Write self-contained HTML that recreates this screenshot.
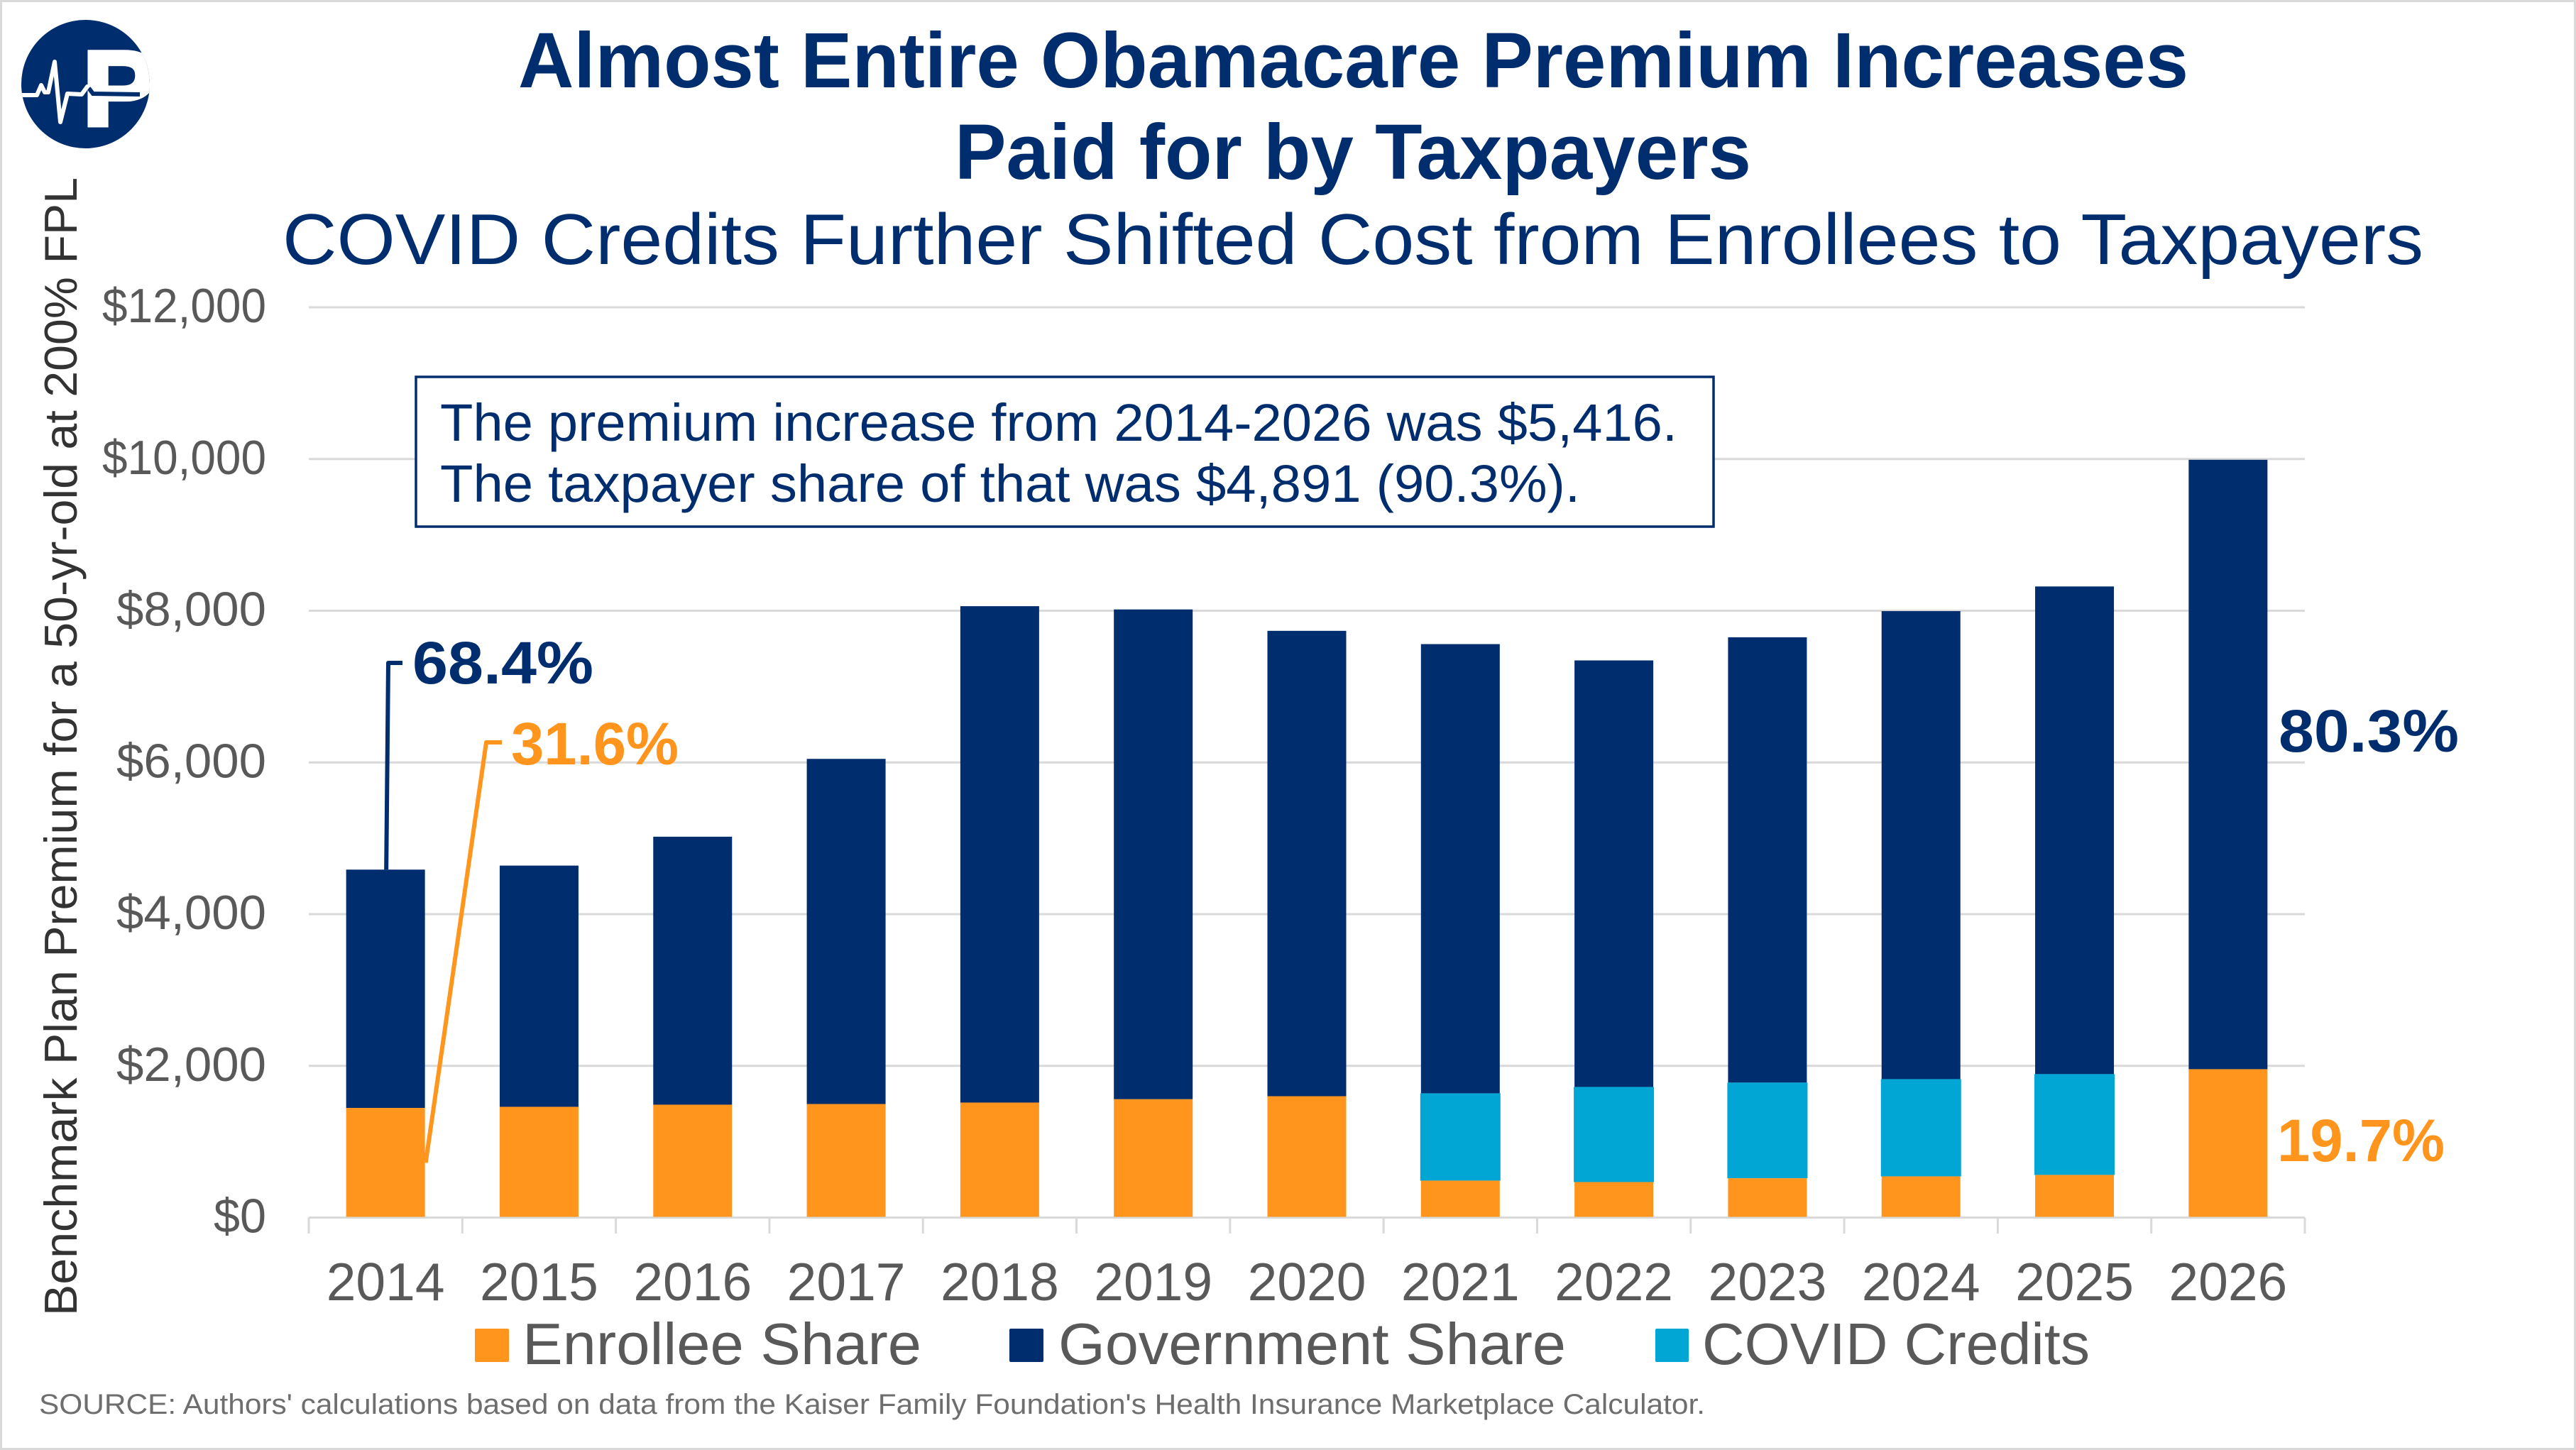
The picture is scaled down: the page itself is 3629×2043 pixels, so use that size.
<!DOCTYPE html>
<html lang="en">
<head>
<meta charset="utf-8">
<title>Almost Entire Obamacare Premium Increases Paid for by Taxpayers</title>
<style>
html,body{margin:0;padding:0;background:#fff;}
svg{display:block;}
text{font-family:"Liberation Sans",sans-serif;}
</style>
</head>
<body>
<svg id="chart" xmlns="http://www.w3.org/2000/svg" width="3629" height="2043" viewBox="0 0 3629 2043">
  <rect x="1.5" y="1.5" width="3626" height="2040" fill="#fff" stroke="#d9d9d9" stroke-width="3"/>
  <g>
    <defs><clipPath id="logoClip"><circle cx="120.5" cy="118.5" r="90.5"/></clipPath></defs>
    <circle cx="120.5" cy="118.5" r="90.5" fill="#002d6e"/>
    <g clip-path="url(#logoClip)">
      <text x="116" y="176.5" font-size="150" font-weight="700" fill="#fff" stroke="#fff" stroke-width="6" textLength="106" lengthAdjust="spacingAndGlyphs">P</text>
      <rect x="156" y="97" width="23" height="23" rx="7" fill="#002d6e"/>
      <polyline points="125,124 131,132 197,133" fill="none" stroke="#002d6e" stroke-width="6"/>
      <polyline points="28,134 52,134 58,120 63,130 68,130 77,87 85,172 95,132 115,133 123,122" fill="none" stroke="#fff" stroke-width="6" stroke-linejoin="round" stroke-linecap="round"/>
    </g>
  </g>
  <text x="730" y="123" font-size="110" font-weight="700" fill="#002d6e" textLength="2353" lengthAdjust="spacingAndGlyphs">Almost Entire Obamacare Premium Increases</text>
  <text x="1345" y="252" font-size="110" font-weight="700" fill="#002d6e" textLength="1122" lengthAdjust="spacingAndGlyphs">Paid for by Taxpayers</text>
  <text x="398" y="372" font-size="101" fill="#002d6e" textLength="3016" lengthAdjust="spacingAndGlyphs">COVID Credits Further Shifted Cost from Enrollees to Taxpayers</text>
  <text transform="translate(108,1854) rotate(-90)" font-size="65" fill="#333" textLength="1604" lengthAdjust="spacingAndGlyphs">Benchmark Plan Premium for a 50-yr-old at 200% FPL</text>
  <g id="gridLayer"></g>
  <g id="tickLayer"></g>
  <g id="barLayer"></g>
  <g id="calloutLayer"></g>
  <g>
    <rect x="586" y="531" width="1828" height="211" fill="#fff" stroke="#002d6e" stroke-width="3.5"/>
    <text x="620" y="621" font-size="74" fill="#002d6e" textLength="1743" lengthAdjust="spacingAndGlyphs">The premium increase from 2014-2026 was $5,416.</text>
    <text x="620" y="707" font-size="74" fill="#002d6e" textLength="1606" lengthAdjust="spacingAndGlyphs">The taxpayer share of that was $4,891 (90.3%).</text>
  </g>
  <text x="3210" y="1059" font-size="84" font-weight="700" fill="#002d6e" textLength="254" lengthAdjust="spacingAndGlyphs">80.3%</text>
  <text x="3208" y="1636" font-size="84" font-weight="700" fill="#ff951d" textLength="236" lengthAdjust="spacingAndGlyphs">19.7%</text>
  <g>
    <g>
      <rect x="669" y="1872" width="48" height="47" rx="2" fill="#ff951d"/>
      <text x="736" y="1922" font-size="83" fill="#595959" textLength="562" lengthAdjust="spacingAndGlyphs">Enrollee Share</text>
    </g>
    <g>
      <rect x="1422" y="1872" width="48" height="47" rx="2" fill="#002d6e"/>
      <text x="1491" y="1922" font-size="83" fill="#595959" textLength="715" lengthAdjust="spacingAndGlyphs">Government Share</text>
    </g>
    <g>
      <rect x="2332" y="1872" width="47" height="47" rx="2" fill="#02a6d5"/>
      <text x="2398" y="1922" font-size="83" fill="#595959" textLength="546" lengthAdjust="spacingAndGlyphs">COVID Credits</text>
    </g>
  </g>
  <text x="55" y="1992" font-size="40" fill="#6e6e6e" textLength="2347" lengthAdjust="spacingAndGlyphs">SOURCE: Authors' calculations based on data from the Kaiser Family Foundation's Health Insurance Marketplace Calculator.</text>
</svg>
<script>
var years = ["2014","2015","2016","2017","2018","2019","2020","2021","2022","2023","2024","2025","2026"];
var enrolleeShare = [1445,1460,1488,1497,1516,1560,1600,487,468,518,543,562,1956];
var covidCredits = [0,0,0,0,0,0,0,1151,1254,1261,1282,1329,0];
var governmentShare = [3142,3180,3533,4550,6544,6457,6135,5922,5623,5871,6170,6429,8034];
var yTicks = [0,2000,4000,6000,8000,10000,12000];
var yTickLabels = ["$0","$2,000","$4,000","$6,000","$8,000","$10,000","$12,000"];
var calloutGovernment = "68.4%";
var calloutEnrollee = "31.6%";

var NS = "http://www.w3.org/2000/svg";
var plotLeft = 435, plotRight = 3247, plotBase = 1715.5, plotTop = 433;
var yMax = 12000;
var barWidth = 111;
var step = (plotRight - plotLeft) / years.length;

function xScale(i) { return plotLeft + step * (i + 0.5); }
function yScale(v) { return plotBase - (plotBase - plotTop) * v / yMax; }
function make(tag, attrs, parent) {
  var n = document.createElementNS(NS, tag);
  for (var k in attrs) n.setAttribute(k, attrs[k]);
  parent.appendChild(n);
  return n;
}
function tickLabelWidth(text) {
  return text.length >= 7 ? 231 : (text.length === 6 ? 211 : 74);
}

var gridLayer = document.getElementById("gridLayer");
var tickLayer = document.getElementById("tickLayer");
var barLayer = document.getElementById("barLayer");
var calloutLayer = document.getElementById("calloutLayer");

yTicks.forEach(function (t, i) {
  var line = make("line", {x1: plotLeft, x2: plotRight, y1: yScale(t), y2: yScale(t), stroke: "#d9d9d9", "stroke-width": 3}, gridLayer);
  
  
  var label = make("text", {x: 375 - tickLabelWidth(yTickLabels[i]), y: yScale(t) + 21, "font-size": 68, fill: "#595959", textLength: tickLabelWidth(yTickLabels[i]), lengthAdjust: "spacingAndGlyphs"}, tickLayer);
  label.textContent = yTickLabels[i];
  
  
});

for (var m = 0; m <= years.length; m++) {
  var tx = plotLeft + step * m;
  var tick = make("line", {x1: tx, x2: tx, y1: plotBase, y2: 1738, stroke: "#d9d9d9", "stroke-width": 3}, gridLayer);
  
  
}

years.forEach(function (year, i) {
  var cx = xScale(i);
  var label = make("text", {x: cx, y: 1832, "text-anchor": "middle", "font-size": 75, fill: "#595959"}, tickLayer);
  label.textContent = year;
  
  

  var e = enrolleeShare[i], c = covidCredits[i], g = governmentShare[i];
  var govBar = make("rect", {x: cx - barWidth / 2, y: yScale(e + c + g), width: barWidth, height: yScale(e + c) - yScale(e + c + g), fill: "#002d6e"}, barLayer);
  
  
  if (c > 0) {
    var covBar = make("rect", {x: cx - barWidth / 2 - 1, y: yScale(e + c), width: barWidth + 2, height: yScale(e) - yScale(e + c), fill: "#02a6d5"}, barLayer);
    
    
  }
  var enrBar = make("rect", {x: cx - barWidth / 2, y: yScale(e), width: barWidth, height: yScale(0) - yScale(e) - 1, fill: "#ff951d"}, barLayer);
  
  
});

var firstTotal = enrolleeShare[0] + covidCredits[0] + governmentShare[0];
var leaderGov = make("polyline", {points: (xScale(0) + 1) + "," + yScale(firstTotal) + " 547,934 567,934", fill: "none", stroke: "#002d6e", "stroke-width": 6, "stroke-linejoin": "round"}, calloutLayer);


var leaderEnr = make("polyline", {points: (xScale(0) + barWidth / 2 + 1) + "," + yScale(enrolleeShare[0] / 2) + " 685,1046 707,1046", fill: "none", stroke: "#ff951d", "stroke-width": 6, "stroke-linejoin": "round"}, calloutLayer);


var labelGov = make("text", {x: 581, y: 963, "font-size": 84, "font-weight": 700, fill: "#002d6e", textLength: 255, lengthAdjust: "spacingAndGlyphs"}, calloutLayer);
labelGov.textContent = calloutGovernment;


var labelEnr = make("text", {x: 720, y: 1077, "font-size": 84, "font-weight": 700, fill: "#ff951d", textLength: 236, lengthAdjust: "spacingAndGlyphs"}, calloutLayer);
labelEnr.textContent = calloutEnrollee;


</script>
</body>
</html>
